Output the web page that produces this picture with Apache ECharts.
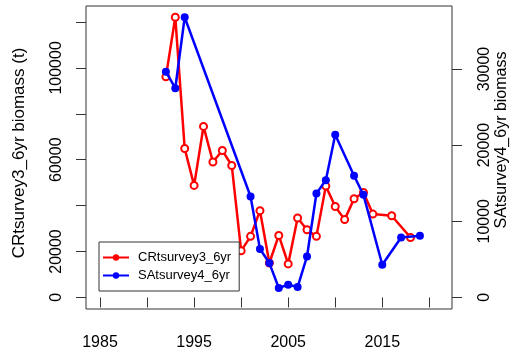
<!DOCTYPE html>
<html>
<head>
<meta charset="utf-8">
<script src="https://cdn.jsdelivr.net/npm/echarts@6/dist/echarts.min.js"></script>
<style>html,body{margin:0;padding:0;background:#fff}#c{width:515px;height:353px}</style>
</head>
<body>
<div id="c"></div>
<script>
var crYears = [1992,1993,1994,1995,1996,1997,1998,1999,2000,2001,2002,2003,2004,2005,2006,2007,2008,2009,2010,2011,2012,2013,2014,2016,2018];
var crValues = [96100,122100,64900,48800,74500,59000,64000,57500,20300,26600,37800,15000,27000,14600,34600,29500,26600,48500,39600,33900,43000,45700,36300,35600,26100];
var saYears = [1992,1993,1994,2001,2002,2003,2004,2005,2006,2007,2008,2009,2010,2012,2013,2015,2017,2019];
var saValues = [29650,27470,36790,13250,6350,4510,1230,1670,1360,5380,13650,15400,21350,15970,13470,4290,7870,8100];
var xTicks = [1985,1990,1995,2000,2005,2010,2015,2020];
var xLabels = [1985,1995,2005,2015];
var yLeftTicks = [0,20000,40000,60000,80000,100000,120000];
var yLeftLabels = [0,20000,60000,100000];
var yRightTicks = [0,10000,20000,30000];
var yRightLabels = [0,10000,20000,30000];
var crName = 'CRtsurvey3_6yr';
var saName = 'SAtsurvey4_6yr';

function pairs(xs, ys){ return xs.map(function(x,i){ return [x, ys[i]]; }); }
function plain(v){ return String(v); }

var FONT = '"Liberation Sans", Arial, sans-serif';
var chart = echarts.init(document.getElementById('c'), null, {renderer:'canvas'});
var tickStyle = {show:true, length:10, inside:false, lineStyle:{color:'#333', width:1}};
chart.setOption({
  animation:false,
  backgroundColor:'#fff',
  grid:{left:86, right:63, top:6, bottom:44, show:true, borderColor:'#333', borderWidth:1, containLabel:false, outerBoundsMode:'none'},
  legend:{
    orient:'vertical', left:99, top:242, width:142, height:48,
    backgroundColor:'#fff', borderColor:'#333', borderWidth:1,
    padding:[9,8,9,3], itemGap:5, itemWidth:26, itemHeight:8,
    textStyle:{fontFamily:FONT, fontSize:13, color:'#000', padding:[0,0,0,4]},
    data:[crName, saName]
  },
  xAxis:{
    type:'value', min:1983.51, max:2022.41,
    axisLine:{show:false},
    axisTick:Object.assign({customValues:xTicks}, tickStyle),
    axisLabel:{customValues:xLabels, formatter:plain, fontFamily:FONT, fontSize:16, color:'#000', margin:26},
    splitLine:{show:false}
  },
  yAxis:[{
    type:'value', min:-5050, max:126980, position:'left',
    name:'CRtsurvey3_6yr biomass (t)', nameLocation:'middle', nameRotate:90, nameGap:58, nameMoveOverlap:false,
    nameTextStyle:{fontFamily:FONT, fontSize:17, color:'#000', padding:[0,0,0,9]},
    axisLine:{show:false},
    axisTick:Object.assign({customValues:yLeftTicks}, tickStyle),
    axisLabel:{customValues:yLeftLabels, formatter:plain, rotate:90, fontFamily:FONT, fontSize:16, color:'#000', margin:21},
    splitLine:{show:false}
  },{
    type:'value', min:-1522, max:38270, position:'right',
    name:'SAtsurvey4_6yr biomass', nameLocation:'middle', nameRotate:90, nameGap:42, nameMoveOverlap:false,
    nameTextStyle:{fontFamily:FONT, fontSize:16, color:'#000', padding:[0,0,0,35]},
    axisLine:{show:false},
    axisTick:Object.assign({customValues:yRightTicks}, tickStyle),
    axisLabel:{customValues:yRightLabels, formatter:plain, rotate:90, fontFamily:FONT, fontSize:16, color:'#000', margin:25},
    splitLine:{show:false}
  }],
  series:[{
    // legend key (R-style line + solid dot)
    name:crName, type:'line', data:[], xAxisIndex:0, yAxisIndex:0,
    symbol:'circle', symbolSize:6, color:'#ff0000',
    lineStyle:{color:'#ff0000', width:2}, itemStyle:{color:'#ff0000'}
  },{
    name:saName, type:'line', data:[], xAxisIndex:0, yAxisIndex:1,
    symbol:'circle', symbolSize:6, color:'#0000ff',
    lineStyle:{color:'#0000ff', width:2}, itemStyle:{color:'#0000ff'}
  },{
    name:crName, type:'line', xAxisIndex:0, yAxisIndex:0,
    data:pairs(crYears, crValues),
    symbol:'emptyCircle', symbolSize:7, color:'#ff0000',
    lineStyle:{color:'#ff0000', width:2.5},
    itemStyle:{color:'#ff0000', borderColor:'#ff0000', borderWidth:2},
    z:2
  },{
    name:saName, type:'line', xAxisIndex:0, yAxisIndex:1,
    data:pairs(saYears, saValues),
    symbol:'circle', symbolSize:8, color:'#0000ff',
    lineStyle:{color:'#0000ff', width:2.5},
    itemStyle:{color:'#0000ff'},
    z:3
  }]
});
</script>
</body>
</html>
